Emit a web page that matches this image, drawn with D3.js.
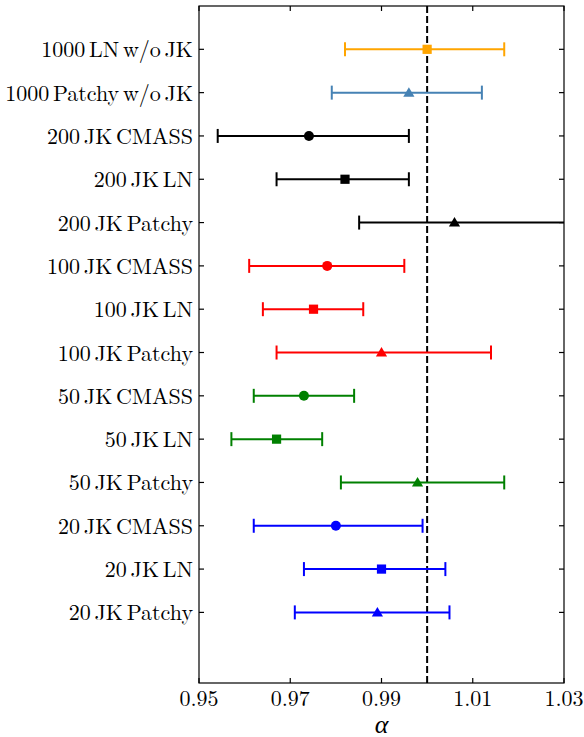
<!DOCTYPE html>
<html>
<head>
<meta charset="utf-8">
<script src="https://cdn.jsdelivr.net/npm/d3@7"></script>
<style>
  html, body { margin: 0; padding: 0; background: #fff; }
  svg { display: block; }
</style>
</head>
<body>
<svg id="chart" width="584" height="737"></svg>
<script>
// ---- data ----
const categories = [
  "1000 LN w/o JK", "1000 Patchy w/o JK",
  "200 JK CMASS", "200 JK LN", "200 JK Patchy",
  "100 JK CMASS", "100 JK LN", "100 JK Patchy",
  "50 JK CMASS", "50 JK LN", "50 JK Patchy",
  "20 JK CMASS", "20 JK LN", "20 JK Patchy"
];
const alphaValues = [1.0000, 0.9960, 0.9741, 0.9820, 1.0060, 0.9781, 0.9751, 0.9900, 0.9730, 0.9670, 0.9979, 0.9800, 0.9900, 0.9891];
const lowerValues = [0.9820, 0.9791, 0.9541, 0.9670, 0.9851, 0.9610, 0.9640, 0.9670, 0.9620, 0.9571, 0.9811, 0.9620, 0.9730, 0.9710];
const upperValues = [1.0169, 1.0120, 0.9960, 0.9960, 1.0360, 0.9950, 0.9860, 1.0140, 0.9840, 0.9770, 1.0169, 0.9990, 1.0040, 1.0049];
const colors = ["#FFA500", "#4682B4", "#000000", "#000000", "#000000", "#FF0000", "#FF0000", "#FF0000",
                "#008000", "#008000", "#008000", "#0000FF", "#0000FF", "#0000FF"];
const markers = ["square", "triangle", "circle", "square", "triangle", "circle", "square", "triangle",
                 "circle", "square", "triangle", "circle", "square", "triangle"];
const xTicks = [0.95, 0.97, 0.99, 1.01, 1.03];
const xTickLabels = ["0.95", "0.97", "0.99", "1.01", "1.03"];
const referenceAlpha = 1.0;
const xLabel = "α";

// ---- layout ----
const FONT = '"Latin Modern Roman", "Liberation Serif", serif';
const svg = d3.select("#chart");
const pL = 199, pR = 564, pT = 6, pB = 683;
const x = d3.scaleLinear().domain([0.95, 1.03]).range([pL, pR]);
const y = d3.scaleLinear().domain([-1, 14.63]).range([pT, pB]);
const rows = d3.range(categories.length);

svg.append("defs").append("clipPath").attr("id", "clip")
  .append("rect").attr("x", pL).attr("y", pT).attr("width", pR - pL).attr("height", pB - pT);

const plot = svg.append("g").attr("clip-path", "url(#clip)");

// reference dashed line
plot.append("line")
  .attr("x1", x(referenceAlpha)).attr("x2", x(referenceAlpha))
  .attr("y1", pT).attr("y2", pB)
  .attr("stroke", "#000").attr("stroke-width", 2)
  .attr("stroke-dasharray", "7,3");

// error bars
const cap = 7;
const eb = plot.selectAll("g.eb").data(rows).join("g").attr("class", "eb");
eb.append("line")
  .attr("x1", i => x(lowerValues[i])).attr("x2", i => x(upperValues[i]))
  .attr("y1", i => y(i)).attr("y2", i => y(i))
  .attr("stroke", i => colors[i]).attr("stroke-width", 2);
eb.append("line")
  .attr("x1", i => x(lowerValues[i])).attr("x2", i => x(lowerValues[i]))
  .attr("y1", i => y(i) - cap).attr("y2", i => y(i) + cap)
  .attr("stroke", i => colors[i]).attr("stroke-width", 2);
eb.append("line")
  .attr("x1", i => x(upperValues[i])).attr("x2", i => x(upperValues[i]))
  .attr("y1", i => y(i) - cap).attr("y2", i => y(i) + cap)
  .attr("stroke", i => colors[i]).attr("stroke-width", 2);

// markers
eb.each(function(i) {
  const g = d3.select(this);
  const cx = x(alphaValues[i]), cy = y(i);
  if (markers[i] === "circle") {
    g.append("circle").attr("cx", cx).attr("cy", cy).attr("r", 5).attr("fill", colors[i]);
  } else if (markers[i] === "square") {
    g.append("rect").attr("x", cx - 4.6).attr("y", cy - 4.6).attr("width", 9.2).attr("height", 9.2).attr("fill", colors[i]);
  } else {
    g.append("path")
      .attr("d", `M${cx},${cy - 5.5} L${cx + 5.6},${cy + 4} L${cx - 5.6},${cy + 4} Z`)
      .attr("fill", colors[i]);
  }
});

// frame
svg.append("rect").attr("x", pL).attr("y", pT).attr("width", pR - pL).attr("height", pB - pT)
  .attr("fill", "none").attr("stroke", "#000").attr("stroke-width", 1.2);

// x ticks (inward, top & bottom)
const tk = 5;
xTicks.forEach((t, k) => {
  svg.append("line").attr("x1", x(t)).attr("x2", x(t)).attr("y1", pB).attr("y2", pB - tk)
    .attr("stroke", "#000").attr("stroke-width", 1.2);
  svg.append("line").attr("x1", x(t)).attr("x2", x(t)).attr("y1", pT).attr("y2", pT + tk)
    .attr("stroke", "#000").attr("stroke-width", 1.2);
  svg.append("text").attr("x", x(t)).attr("y", 706).attr("text-anchor", "middle")
    .style("font-family", FONT).style("font-size", "22px").text(xTickLabels[k]);
});

// y ticks (inward, left & right) and labels
rows.forEach(i => {
  svg.append("line").attr("x1", pL).attr("x2", pL + tk).attr("y1", y(i)).attr("y2", y(i))
    .attr("stroke", "#000").attr("stroke-width", 1.2);
  svg.append("line").attr("x1", pR).attr("x2", pR - tk).attr("y1", y(i)).attr("y2", y(i))
    .attr("stroke", "#000").attr("stroke-width", 1.2);
  svg.append("text").attr("x", 193).attr("y", y(i) + 8).attr("text-anchor", "end")
    .style("font-family", FONT).style("font-size", "22px").style("word-spacing", "-3.6px")
    .text(categories[i]);
});

// x label
svg.append("text").attr("x", (pL + pR) / 2).attr("y", 733).attr("text-anchor", "middle")
  .style("font-family", FONT).style("font-size", "26px").style("font-style", "italic").text(xLabel);
</script>
</body>
</html>
